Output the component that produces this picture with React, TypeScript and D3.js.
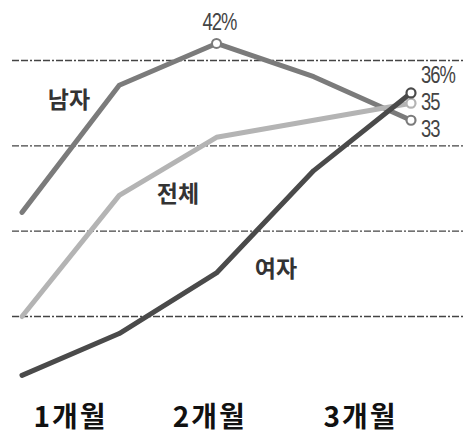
import React from "react";
import * as d3 from "d3";

const steps = [0, 1, 2, 3, 4];
const menValues = [22.2, 37.1, 42, 38.1, 33];
const totalValues = [10, 24.2, 31, 33, 35];
const womenValues = [3.1, 8, 15.1, 27.1, 36.2];
const gridValues = [40, 30, 20, 10];
const monthLabels = ["1개월", "2개월", "3개월"];
const monthPositions = [0.5, 1.93, 3.48];

const W = 463;
const H = 435;

function Narrow({ x, y, anchor, children }: { x: number; y: number; anchor?: string; children: React.ReactNode }) {
  return (
    <g transform={`translate(${x},${y}) scale(0.8,1)`}>
      <text
        x={0}
        y={0}
        textAnchor={anchor || "start"}
        fontFamily="'Liberation Sans', Arial, sans-serif"
        fontSize={23}
        fill="#444"
        letterSpacing={-1.2}
      >
        {children}
      </text>
    </g>
  );
}

export default function App() {
  const x = d3.scaleLinear().domain([0, 4]).range([22, 411]);
  const y = d3.scaleLinear().domain([40, 10]).range([60.5, 316.5]);
  const line = d3
    .line<number>()
    .x((_, i) => x(steps[i]))
    .y((d) => y(d));

  const series = [
    { name: "남자", values: menValues, color: "#7b7b7b", lx: 69, ly: 108 },
    { name: "전체", values: totalValues, color: "#b4b4b4", lx: 178, ly: 202 },
    { name: "여자", values: womenValues, color: "#4a4a4a", lx: 276, ly: 277 },
  ];
  const kr = "'Noto Sans CJK KR', 'Noto Sans', sans-serif";
  const last = steps.length - 1;

  return (
    <svg
      width={W}
      height={H}
      style={{ position: "absolute", left: 0, top: 0, background: "#fff" }}
    >
      {gridValues.map((g) => (
        <line
          key={g}
          x1={12}
          x2={W}
          y1={y(g)}
          y2={y(g)}
          stroke="#444"
          strokeWidth={1.3}
          strokeDasharray="7,2,7,2,2,2"
        />
      ))}
      {series.map((s) => (
        <path
          key={s.name}
          d={line(s.values) || ""}
          fill="none"
          stroke={s.color}
          strokeWidth={5}
          strokeLinejoin="round"
          strokeLinecap="round"
        />
      ))}
      {series.map((s) => (
        <text
          key={s.name + "l"}
          x={s.lx}
          y={s.ly}
          textAnchor="middle"
          fontFamily={kr}
          fontWeight={700}
          fontSize={23}
          fill="#333"
        >
          {s.name}
        </text>
      ))}
      <circle
        cx={x(steps[2])}
        cy={y(menValues[2])}
        r={4.5}
        fill="#fff"
        stroke="#7b7b7b"
        strokeWidth={2}
      />
      {series.map((s) => (
        <circle
          key={s.name + "c"}
          cx={x(steps[last])}
          cy={y(s.values[last])}
          r={4.5}
          fill="#fff"
          stroke={s.color}
          strokeWidth={2.2}
        />
      ))}
      <Narrow x={x(steps[2]) + 3} y={30} anchor="middle">
        {Math.round(menValues[2])}%
      </Narrow>
      <Narrow x={421} y={83}>{Math.round(womenValues[last])}%</Narrow>
      <Narrow x={421} y={110}>{Math.round(totalValues[last])}</Narrow>
      <Narrow x={421} y={137}>{Math.round(menValues[last])}</Narrow>
      {monthLabels.map((m, i) => (
        <text
          key={m}
          x={x(monthPositions[i])}
          y={427}
          textAnchor="middle"
          fontFamily={kr}
          fontWeight={700}
          fontSize={28}
          letterSpacing={2}
          fill="#111"
        >
          {m}
        </text>
      ))}
    </svg>
  );
}
